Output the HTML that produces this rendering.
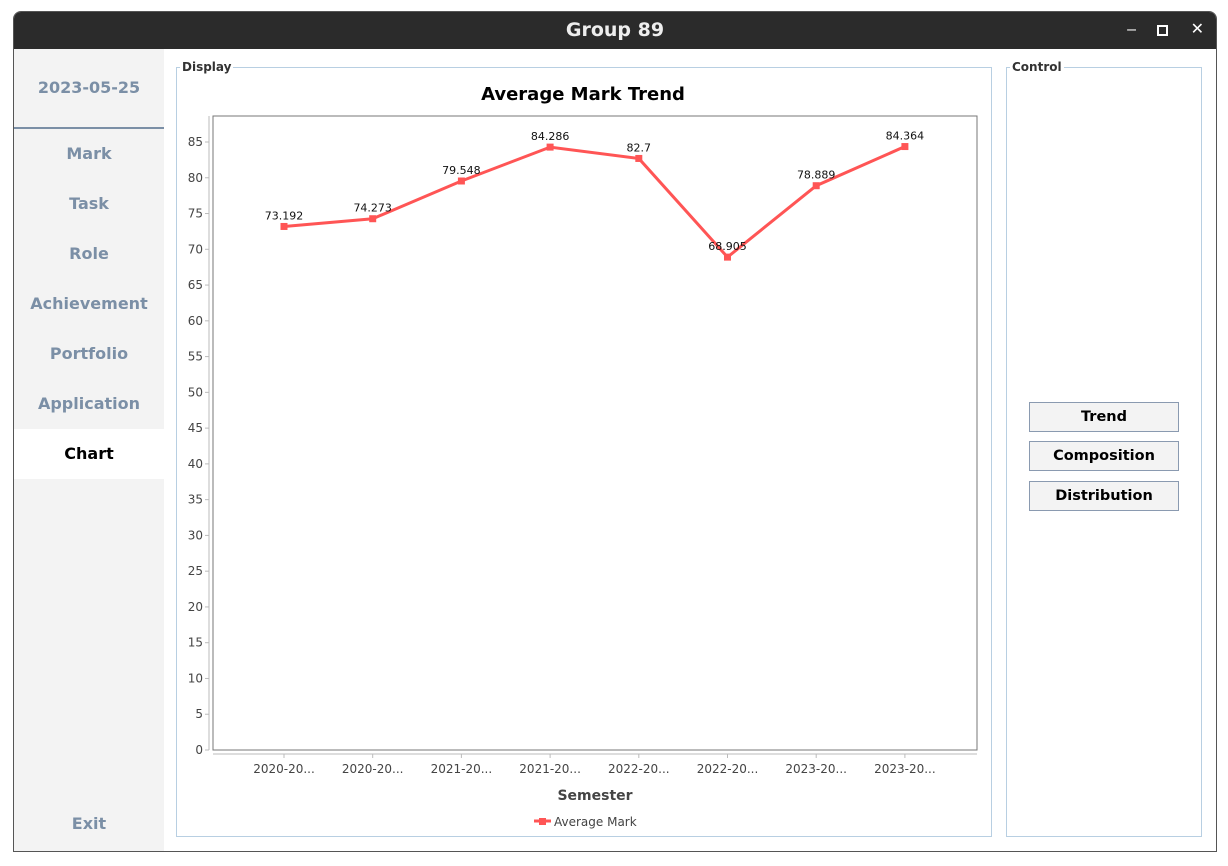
<!DOCTYPE html>
<html><head><meta charset="utf-8"><style>
body{margin:0;width:1228px;height:866px;background:#fff;font-family:"Liberation Sans","DejaVu Sans",sans-serif;position:relative;overflow:hidden}
.abs{position:absolute}
.win{left:13px;top:11px;width:1202px;height:839px;border:1px solid #555;border-radius:8px 8px 0 0;background:#fff;overflow:hidden}
.title{left:0;top:0;width:1202px;height:37px;background:#2b2b2b;color:#eee;font:bold 19px "DejaVu Sans",sans-serif;text-align:center;line-height:37px}
.side{left:0;top:37px;width:150px;height:802px;background:#f3f3f3}
.mi{left:0;width:150px;height:50px;text-align:center;font:bold 16px "DejaVu Sans",sans-serif;line-height:50px;color:#7b8fa6}
.panel{border:1px solid #b8cfe2}
.lg{font:bold 12px "DejaVu Sans",sans-serif;color:#333;background:#fff;padding:0 2px}
.btn{left:1029px;width:148px;height:28px;border:1px solid #8a9ab0;background:#f3f3f3;text-align:center;font:bold 14.5px "DejaVu Sans",sans-serif;line-height:28px}
</style></head><body>
<div class="abs win">
<div class="abs title">Group 89</div>
<div class="abs" style="right:80px;top:9px;color:#fff;font-size:16px">–</div>
<div class="abs" style="right:48px;top:13px;width:7px;height:7px;border:2px solid #fff"></div>
<div class="abs" style="right:12px;top:7px;color:#fff;font-size:16px;font-weight:bold">✕</div>
<div class="abs side"></div>
</div>
<div class="abs mi" style="left:14px;top:63px;color:#7b8fa6">2023-05-25</div>
<div class="abs" style="left:14px;top:127px;width:150px;height:2px;background:#7b8fa6"></div>
<div class="abs mi" style="left:14px;top:129px">Mark</div>
<div class="abs mi" style="left:14px;top:179px">Task</div>
<div class="abs mi" style="left:14px;top:229px">Role</div>
<div class="abs mi" style="left:14px;top:279px">Achievement</div>
<div class="abs mi" style="left:14px;top:329px">Portfolio</div>
<div class="abs mi" style="left:14px;top:379px">Application</div>
<div class="abs mi" style="left:14px;top:429px;background:#fff;color:#000">Chart</div>
<div class="abs mi" style="left:14px;top:799px">Exit</div>

<div class="abs panel" style="left:176px;top:67px;width:814px;height:768px"></div>
<div class="abs lg" style="left:180px;top:60px">Display</div>
<div class="abs panel" style="left:1006px;top:67px;width:194px;height:768px"></div>
<div class="abs lg" style="left:1010px;top:60px">Control</div>
<div class="abs btn" style="top:402px">Trend</div>
<div class="abs btn" style="top:441px">Composition</div>
<div class="abs btn" style="top:481px">Distribution</div>

<svg class="abs" style="left:0;top:0" width="1228" height="866" id="chart"></svg>
<script>
const categories=["2020-20...","2020-20...","2021-20...","2021-20...","2022-20...","2022-20...","2023-20...","2023-20..."];
const values=[73.192,74.273,79.548,84.286,82.7,68.905,78.889,84.364];
const labels=["73.192","74.273","79.548","84.286","82.7","68.905","78.889","84.364"];
const yTicks=[0,5,10,15,20,25,30,35,40,45,50,55,60,65,70,75,80,85];
const svg=document.getElementById('chart');const NS='http://www.w3.org/2000/svg';
function mk(t,a,txt){const e=document.createElementNS(NS,t);for(const k in a)e.setAttribute(k,a[k]);if(txt!==undefined)e.textContent=txt;svg.appendChild(e);return e;}
const L=213,T=116,R=977,B=750;
function y(v){return B-v*(608/85);}
function x(i){return 284+i*88.7;}
let e=mk('text',{x:583,y:100,'text-anchor':'middle','font-family':'DejaVu Sans,sans-serif','font-weight':'bold','font-size':18},'Average Mark Trend');


e=mk('rect',{x:L,y:T,width:R-L,height:B-T,fill:'#fff',stroke:'#777','stroke-width':1});


mk('line',{x1:L-4,y1:T,x2:L-4,y2:B,stroke:'#bbb'});
mk('line',{x1:L,y1:B+4,x2:R,y2:B+4,stroke:'#bbb'});
yTicks.forEach(v=>{mk('line',{x1:L-8,x2:L-4,y1:y(v),y2:y(v),stroke:'#bbb'});
e=mk('text',{x:L-10,y:y(v)+4,'text-anchor':'end','font-family':'DejaVu Sans,sans-serif','font-size':12,fill:'#444'},v);

});
categories.forEach((c,i)=>{mk('line',{x1:x(i),x2:x(i),y1:B+4,y2:B+8,stroke:'#bbb'});
e=mk('text',{x:x(i),y:B+23,'text-anchor':'middle','font-family':'DejaVu Sans,sans-serif','font-size':12,fill:'#444'},c);

});
e=mk('text',{x:595,y:800,'text-anchor':'middle','font-family':'DejaVu Sans,sans-serif','font-weight':'bold','font-size':14,fill:'#444'},'Semester');


e=mk('polyline',{points:values.map((v,i)=>x(i)+','+y(v)).join(' '),fill:'none',stroke:'#ff5555','stroke-width':3});


values.forEach((v,i)=>{e=mk('rect',{x:x(i)-3.5,y:y(v)-3.5,width:7,height:7,fill:'#ff5555'});


e=mk('text',{x:x(i),y:y(v)-7,'text-anchor':'middle','font-family':'DejaVu Sans,sans-serif','font-size':11,fill:'#111'},labels[i]);

});
mk('line',{x1:534,x2:551,y1:821,y2:821,stroke:'#ff5555','stroke-width':3});
mk('rect',{x:539,y:818,width:7,height:7,fill:'#ff5555'});
e=mk('text',{x:554,y:826,'font-family':'DejaVu Sans,sans-serif','font-size':12,fill:'#444'},'Average Mark');


</script>
</body></html>
